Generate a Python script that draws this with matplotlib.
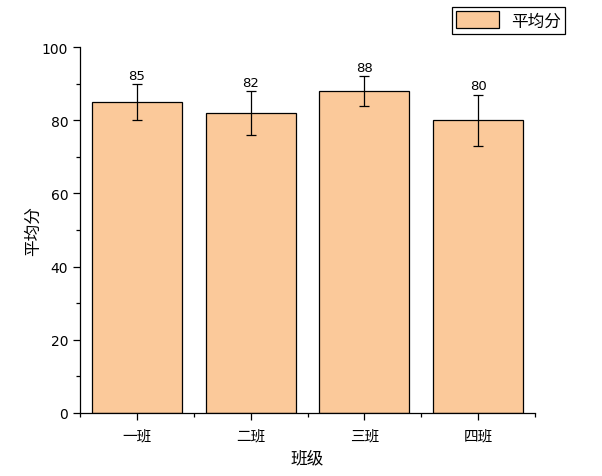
import matplotlib
matplotlib.use("Agg")
from matplotlib import pyplot as plt
from matplotlib.ticker import MultipleLocator, FixedLocator
import numpy as np

plt.rcParams['font.family'] = ['Noto Sans CJK SC', 'DejaVu Sans']

classes = ['一班', '二班', '三班', '四班']
avg_scores = [85, 82, 88, 80]
errors = [5, 6, 4, 7]

fig = plt.figure(figsize=(6.02, 4.77), dpi=100)
ax = fig.add_axes([80/602, 63/477, 455/602, 366/477])

x = np.arange(len(classes))
bars = ax.bar(x, avg_scores, width=0.79, color='#FBC99A', edgecolor='black',
              linewidth=0.9, label='平均分', zorder=2)
ax.errorbar(x, avg_scores, yerr=errors, fmt='none', ecolor='black',
            elinewidth=0.9, capsize=3.5, capthick=0.9, zorder=3)

## value labels above the error caps
for xi, v, e in zip(x, avg_scores, errors):
    ax.annotate(str(v), (xi, v + e), xytext=(0, 1.5), textcoords='offset points',
                ha='center', va='bottom', fontsize=9.5, family='DejaVu Sans')

ax.set_xlim(-0.5, 3.5)
ax.set_ylim(0, 100)
ax.set_xticks(x)
ax.set_xticklabels(classes, fontsize=10.5)
ax.xaxis.set_minor_locator(FixedLocator(np.arange(-0.5, 4.0, 1.0)))
ax.yaxis.set_major_locator(MultipleLocator(20))
ax.yaxis.set_minor_locator(MultipleLocator(10))
for lbl in ax.get_yticklabels():
    lbl.set_family('DejaVu Sans')
    lbl.set_fontsize(10)

ax.tick_params(axis='both', which='major', direction='out', length=5, width=0.9)
ax.tick_params(axis='both', which='minor', direction='out', length=3, width=0.9)
ax.tick_params(axis='x', which='major', pad=6)
ax.spines['top'].set_visible(False)
ax.spines['right'].set_visible(False)
ax.spines['left'].set_linewidth(0.9)
ax.spines['bottom'].set_linewidth(0.9)

ax.set_xlabel('班级', fontsize=12, labelpad=5)
ax.set_ylabel('平均分', fontsize=12)
ax.yaxis.set_label_coords(-0.084, 0.5)

leg = fig.legend(handles=[bars], labels=['平均分'], loc='upper right',
                 bbox_to_anchor=(565/602, 1 - 8/477), fontsize=12,
                 fancybox=False, edgecolor='black', framealpha=1,
                 borderpad=0.25, handlelength=2.6, handleheight=1.2,
                 handletextpad=0.7, borderaxespad=0)
leg.get_frame().set_linewidth(0.9)

fig.savefig('out.png', dpi=100)
